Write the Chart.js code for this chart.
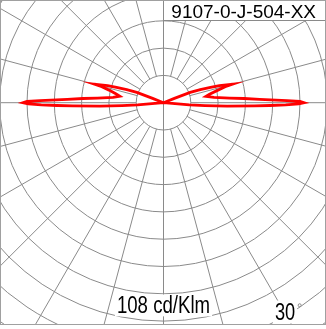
<!DOCTYPE html>
<html>
<head>
<meta charset="utf-8">
<script src="https://cdn.jsdelivr.net/npm/chart.js@4.4.1/dist/chart.umd.min.js"></script>
<style>
  html, body { margin: 0; padding: 0; background: #fff; }
  canvas { display: block; }
</style>
</head>
<body>
<canvas id="ldc" width="326" height="329"></canvas>
<script>
// gamma angles (deg from nadir) and intensity in cd/klm, right (C0) and left (C180) half
const gamma = [84, 85, 86, 87, 88, 88.5, 89, 89.5, 90, 90.5, 91, 92, 93, 94, 96, 98.5, 100.5, 103, 104.5, 105, 107, 108, 109.5, 111, 111.5, 112];
const intensityC0 = [0, 20, 32, 49, 70, 82, 94, 104, 108, 105, 95, 74, 62, 51, 39, 33, 36, 43, 49, 55, 45, 38, 30, 22, 9, 0];
const intensityC180 = [0, 20, 32, 49, 70, 82, 94, 104, 108, 105, 95, 74, 62, 51, 39, 34, 37, 43, 49, 55, 45, 38, 30, 22, 9, 0];

const ringStep = 21;   // cd/klm between circles
const ringCount = 12;
const spokeStep = 15;  // degrees between radial lines
const titleText = '9107-0-J-504-XX';
const scaleText = '108 cd/Klm';
const angleText = '30';
const angleTextAt = 30;

const W = 326, H = 329;
const cx = 163.5, cy = 102.7;       // pixel position of the lamp centre
const pxPerUnit = 27.3 / ringStep;
const gridColor = '#8a8a8a';

const rad = (d) => d * Math.PI / 180;

// polar -> cartesian, right half outwards then left half back
const curve = [];
gamma.forEach((g, i) => {
  curve.push({ x: intensityC0[i] * Math.sin(rad(g)), y: -intensityC0[i] * Math.cos(rad(g)) });
});
for (let i = gamma.length - 1; i >= 0; i--) {
  const g = gamma[i];
  curve.push({ x: -intensityC180[i] * Math.sin(rad(g)), y: -intensityC180[i] * Math.cos(rad(g)) });
}

const polarGrid = {
  id: 'polarGrid',
  beforeDatasetsDraw(chart) {
    const { ctx, scales: { x, y } } = chart;
    const ox = x.getPixelForValue(0);
    const oy = y.getPixelForValue(0);
    const unit = x.getPixelForValue(ringStep) - ox;
    ctx.save();
    ctx.beginPath();
    ctx.rect(1, 1, W - 2, 323);
    ctx.clip();
    ctx.strokeStyle = gridColor;
    ctx.lineWidth = 1;
    for (let k = 1; k <= ringCount; k++) {
      ctx.beginPath();
      ctx.arc(ox, oy, k * unit, 0, Math.PI * 2);
      ctx.stroke();
    }
    for (let a = 0; a < 360; a += spokeStep) {
      const r0 = a % 180 === 0 ? 0 : unit;
      const dx = Math.sin(rad(a)), dy = Math.cos(rad(a));
      ctx.beginPath();
      ctx.moveTo(ox + dx * r0, oy + dy * r0);
      ctx.lineTo(ox + dx * 500, oy + dy * 500);
      ctx.stroke();
    }
    ctx.restore();
  },
  afterDraw(chart) {
    const { ctx, scales: { x, y } } = chart;
    const ox = x.getPixelForValue(0);
    const oy = y.getPixelForValue(0);
    const unit = x.getPixelForValue(ringStep) - ox;

    // condensed label on a white patch
    const label = (text, mid, base, size, sx) => {
      ctx.font = size + 'px "Liberation Sans", Arial, sans-serif';
      const w = ctx.measureText(text).width * sx;
      ctx.fillStyle = '#fff';
      ctx.fillRect(mid - w / 2 - 2, base - size * 0.8, w + 4, size * 0.95);
      ctx.save();
      ctx.translate(mid, base);
      ctx.scale(sx, 1);
      ctx.fillStyle = '#000';
      ctx.textAlign = 'center';
      ctx.textBaseline = 'alphabetic';
      ctx.fillText(text, 0, 0);
      ctx.restore();
      return w;
    };

    ctx.save();
    label(scaleText, ox, oy + 7.7 * unit, 23, 0.81);

    const ar = 8.8 * unit;
    const ax = ox + Math.sin(rad(angleTextAt)) * ar + 1.4;
    const ay = oy + Math.cos(rad(angleTextAt)) * ar + 9;
    const w = label(angleText, ax, ay, 24, 0.76);
    ctx.strokeStyle = gridColor;
    ctx.beginPath();
    ctx.arc(ax + w / 2 + 4.5, ay - 14.5, 1.5, 0, Math.PI * 2);
    ctx.stroke();

    // title box
    ctx.fillStyle = '#fff';
    ctx.fillRect(163.5, 0.5, 162, 20);
    ctx.strokeStyle = gridColor;
    ctx.strokeRect(163.5, 0.5, 162, 20);
    ctx.fillStyle = '#000';
    ctx.font = '19px "Liberation Sans", Arial, sans-serif';
    ctx.textAlign = 'right';
    ctx.textBaseline = 'alphabetic';
    ctx.fillText(titleText, 316, 17.5);

    // outer frame
    ctx.strokeStyle = '#a0a0a0';
    ctx.strokeRect(0.5, 0.5, W - 1, 324);
    ctx.restore();
  }
};

new Chart(document.getElementById('ldc'), {
  type: 'scatter',
  data: {
    datasets: [{
      data: curve,
      showLine: true,
      fill: false,
      tension: 0,
      borderColor: '#ff0000',
      borderWidth: 2.8,
      pointRadius: 0,
    }],
  },
  options: {
    responsive: false,
    devicePixelRatio: 1,
    animation: false,
    events: [],
    layout: { padding: 0 },
    plugins: { legend: { display: false }, tooltip: { enabled: false } },
    scales: {
      x: { type: 'linear', display: false, min: -cx / pxPerUnit, max: (W - cx) / pxPerUnit },
      y: { type: 'linear', display: false, min: -(H - cy) / pxPerUnit, max: cy / pxPerUnit },
    },
  },
  plugins: [polarGrid],
});
</script>
</body>
</html>
